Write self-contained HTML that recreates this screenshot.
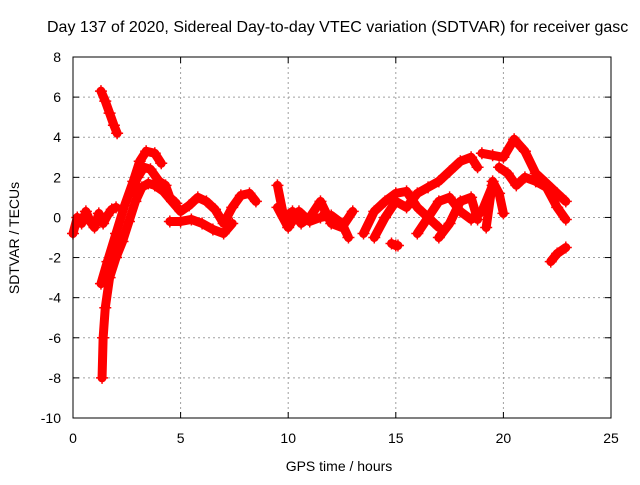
<!DOCTYPE html>
<html><head><meta charset="utf-8"><style>
body{margin:0;background:#fff;}
svg text{font-family:"Liberation Sans",sans-serif;font-size:14px;fill:#000;}
</style></head><body>
<svg id="c" width="640" height="480" xmlns="http://www.w3.org/2000/svg">
<text x="47" y="32" style="font-size:16px">Day 137 of 2020, Sidereal Day-to-day VTEC variation (SDTVAR) for receiver gasc</text>
<g id="grid"></g>
<g id="axes"></g>
<g id="series"></g>
<rect x="73" y="57" width="538" height="361" fill="none" stroke="#000" stroke-width="1"/>
<text x="339" y="471" text-anchor="middle">GPS time / hours</text>
<text transform="translate(19,238) rotate(-90)" text-anchor="middle">SDTVAR / TECUs</text>
</svg>
<script>
const xTicks=[0,5,10,15,20,25];
const yTicks=[8,6,4,2,0,-2,-4,-6,-8,-10];
const trackEarlyT=[0,0.2,0.4,0.6,0.8,1.0,1.2,1.4,1.6,1.8,2.0];
const trackEarlyV=[-0.8,0.0,-0.3,0.3,-0.2,-0.5,0.2,-0.3,0.1,0.4,0.5];
const trackHighT=[1.3,1.5,1.7,1.9,2.05];
const trackHighV=[6.3,5.8,5.2,4.6,4.2];
const trackDiveT=[1.35,1.4,1.5,1.7,2.0,2.3,2.6,2.9,3.2,3.5,3.8,4.2,4.6,5.0,5.4,5.8,6.2,6.6,7.0,7.4,7.8,8.2,8.5];
const trackDiveV=[-8,-6,-4.5,-3.0,-2.0,-1.2,-0.2,0.8,1.5,1.7,1.6,1.3,0.8,0.3,0.6,1.0,0.8,0.4,-0.3,0.5,1.1,1.2,0.8];
const trackArcT=[1.3,1.6,2.0,2.4,2.8,3.1,3.4,3.8,4.1];
const trackArcV=[-3.3,-2.2,-0.8,0.6,1.8,2.8,3.3,3.2,2.7];
const trackMidT=[2.7,3.0,3.3,3.6,4.0,4.3,4.5,4.8];
const trackMidV=[1.2,2.0,2.5,2.4,1.8,1.6,1.0,0.7];
const trackLowT=[4.5,5.0,5.5,6.0,6.5,7.0,7.4];
const trackLowV=[-0.2,-0.2,-0.1,-0.3,-0.6,-0.8,-0.3];
const trackN1T=[9.5,9.8,10.2,10.6,11.0,11.5,12.0,12.5,13.0];
const trackN1V=[1.6,0.0,0.3,-0.3,0.0,0.8,-0.3,-0.5,0.3];
const trackN2T=[9.5,10.0,10.5,11.0,11.5,12.0,12.5,12.8];
const trackN2V=[0.5,-0.5,0.3,-0.2,0.0,0.1,-0.3,-1.0];
const trackAT=[13.5,14.0,14.5,15.0,15.5,16.0,16.5,17.0];
const trackAV=[-0.8,0.3,0.8,1.2,1.3,0.5,0.0,-0.5];
const trackBT=[14.0,14.5,15.0,15.5,16.0,16.5,17.0,17.5,18.0,18.5,18.8];
const trackBV=[-1.0,0.0,0.8,0.5,1.2,1.5,1.8,2.3,2.8,3.0,2.5];
const trackCT=[16.0,16.5,17.0,17.5,18.0,18.5,19.0,19.5];
const trackCV=[-0.8,0.0,0.8,1.0,0.3,-0.1,0.3,1.6];
const trackDT=[17.0,17.5,18.0,18.5,18.8];
const trackDV=[-1.0,-0.3,0.8,1.0,-0.1];
const trackIsoT=[14.8,15.0,15.1];
const trackIsoV=[-1.3,-1.4,-1.4];
const trackKT=[19.0,19.5,20.0,20.5,21.0,21.5,22.0,22.5,22.9];
const trackKV=[3.2,3.1,3.0,3.9,3.3,2.2,1.7,1.2,0.8];
const trackLT=[19.8,20.2,20.6,21.0,21.5,22.0,22.5,22.9];
const trackLV=[2.5,2.2,1.6,2.0,1.8,1.5,0.5,-0.1];
const trackMT=[22.2,22.5,22.9];
const trackMV=[-2.2,-1.8,-1.5];
const trackNT=[19.2,19.5,19.8,20.0];
const trackNV=[-0.5,1.8,1.2,0.2];

const NS='http://www.w3.org/2000/svg';
const X0=73,X1=611,Y0=418,Y1=57;
function px(t){return X0+(t-0)/(25-0)*(X1-X0);}
function py(v){return Y0-(v-(-10))/(8-(-10))*(Y0-Y1);}
const grid=document.getElementById('grid'),axes=document.getElementById('axes'),ser=document.getElementById('series');
function mk(tag,attrs,parent){const e=document.createElementNS(NS,tag);for(const k in attrs)e.setAttribute(k,attrs[k]);parent.appendChild(e);return e;}
xTicks.forEach(t=>{
  const x=px(t);
  if(t>0&&t<25){const g=mk('line',{x1:x,x2:x,y1:Y1,y2:Y0,stroke:'#a0a0a0','stroke-dasharray':'2,3'},grid);
  
  }
  mk('line',{x1:x,x2:x,y1:Y0,y2:Y0-6,stroke:'#000'},axes);
  mk('line',{x1:x,x2:x,y1:Y1,y2:Y1+6,stroke:'#000'},axes);
  const l=mk('text',{x:x,y:443,'text-anchor':'middle'},axes);l.textContent=t;
  
  
});
yTicks.forEach(v=>{
  const y=py(v);
  if(v>-10&&v<8){const g=mk('line',{x1:X0,x2:X1,y1:y,y2:y,stroke:'#a0a0a0','stroke-dasharray':'2,3'},grid);
  
  }
  mk('line',{x1:X0,x2:X0+6,y1:y,y2:y,stroke:'#000'},axes);
  mk('line',{x1:X1,x2:X1-6,y1:y,y2:y,stroke:'#000'},axes);
  const l=mk('text',{x:61,y:y+5,'text-anchor':'end'},axes);l.textContent=v;
  
  
});
const tracks=[[trackEarlyT,trackEarlyV],[trackHighT,trackHighV],[trackDiveT,trackDiveV],[trackArcT,trackArcV],[trackMidT,trackMidV],[trackLowT,trackLowV],[trackN1T,trackN1V],[trackN2T,trackN2V],[trackAT,trackAV],[trackBT,trackBV],[trackCT,trackCV],[trackDT,trackDV],[trackIsoT,trackIsoV],[trackKT,trackKV],[trackLT,trackLV],[trackMT,trackMV],[trackNT,trackNV]];
tracks.forEach(([T,V])=>{
  const pts=T.map((t,i)=>px(t)+','+py(V[i])).join(' ');
  const pl=mk('polyline',{points:pts,fill:'none',stroke:'#ff0000','stroke-width':9,'stroke-linejoin':'round','stroke-linecap':'round'},ser);
  
  
  T.forEach((t,i)=>{
    const x=px(t),y=py(V[i]);
    const p=mk('path',{d:`M${x-6},${y}H${x+6}M${x},${y-6}V${y+6}`,stroke:'#ff0000','stroke-width':1.5},ser);
    
    
  });
});
</script>
</body></html>
